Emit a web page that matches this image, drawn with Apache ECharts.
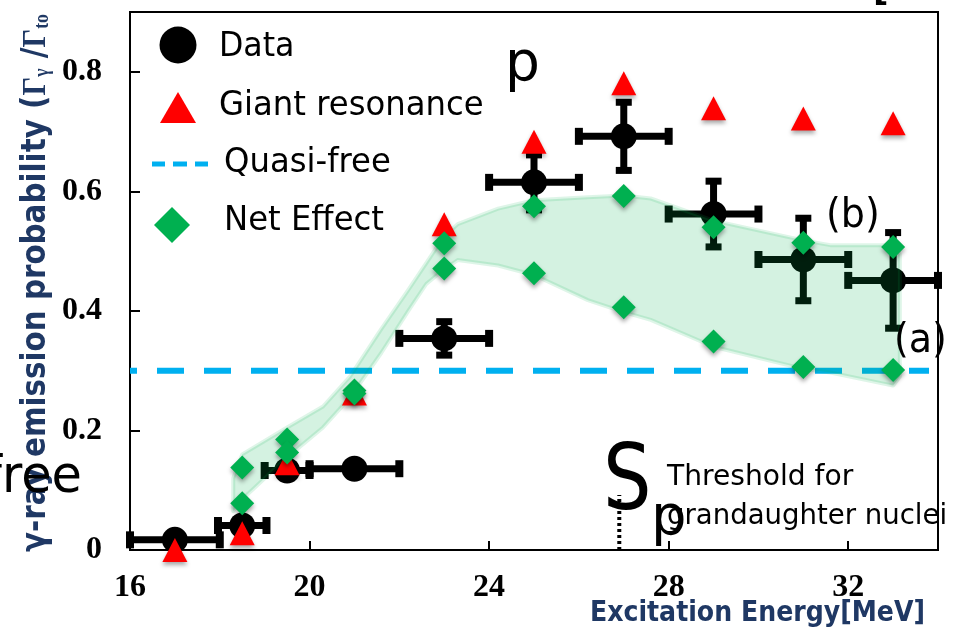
<!DOCTYPE html>
<html>
<head>
<meta charset="utf-8">
<script src="https://cdn.jsdelivr.net/npm/echarts@6/dist/echarts.min.js"></script>
<style>
  html, body { margin: 0; padding: 0; background: #fff; }
  #chart { width: 961px; height: 634px; }
</style>
</head>
<body>
<div id="chart"></div>
<script>
// Measured gamma-ray emission probability per excitation-energy bin
const dataX    = [17, 18.5, 19.5, 21, 23, 25, 27, 29, 31, 33];
const dataY    = [0.017, 0.041, 0.133, 0.136, 0.354, 0.615, 0.692, 0.562, 0.486, 0.451];
const dataXErr = [1, 0.54, 0.5, 1, 1, 1, 1, 1, 1, 1];
const dataYErr = [0, 0.01, 0, 0, 0.028, 0.046, 0.057, 0.055, 0.069, 0.08];

// Giant resonance model
const grX = [17, 18.5, 19.5, 21, 23, 25, 27, 29, 31, 33];
const grY = [0.0, 0.028, 0.145, 0.262, 0.545, 0.683, 0.781, 0.739, 0.722, 0.714];

// Net effect: upper and lower estimates
const neX     = [18.5, 19.5, 21, 23, 25, 27, 29, 31, 33];
const neUpper = [0.138, 0.185, 0.267, 0.513, 0.575, 0.592, 0.540, 0.514, 0.507];
const neLower = [0.078, 0.163, 0.262, 0.471, 0.463, 0.406, 0.349, 0.306, 0.301];

// Shaded net-effect band
const bandX     = [18.3, 18.5, 19.5, 20.3, 20.9, 21.6, 22.2, 22.6, 23.0, 23.3, 24.2, 25.0, 26.2, 27.0, 27.6, 29.0, 31.0, 31.6, 33.0, 33.15];
const bandUpper = [0.12, 0.16, 0.205, 0.24, 0.29, 0.37, 0.435, 0.48, 0.525, 0.545, 0.571, 0.585, 0.59, 0.593, 0.588, 0.551, 0.518, 0.51, 0.51, 0.495];
const bandLower = [0.065, 0.085, 0.155, 0.205, 0.255, 0.33, 0.40, 0.445, 0.47, 0.485, 0.476, 0.46, 0.418, 0.398, 0.385, 0.34, 0.303, 0.297, 0.275, 0.29];

// Quasi-free level
const qfX = [16, 33.8];
const qfY = [0.3, 0.3];

// Sp threshold marker
const spX = [26.9, 26.9];
const spY = [0, 0.092];

// Axis ranges
const xRange = [16, 34];
const yRange = [0, 0.9];

const chart = echarts.init(document.getElementById('chart'), null, { renderer: 'canvas' });

const sans = "'DejaVu Sans', sans-serif";
const serif = "'Liberation Serif', 'DejaVu Serif', serif";
const navy = '#1f3864';
const markShadow = { shadowBlur: 4, shadowOffsetY: 3, shadowColor: 'rgba(0,0,0,0.35)' };

function renderErrorBar(params, api) {
  const x = api.value(0), y = api.value(1), ex = api.value(2), ey = api.value(3);
  const bar = { stroke: '#000', lineWidth: 7 };
  const cap = { stroke: '#000', lineWidth: 8 };
  const kids = [];
  if (ex > 0) {
    const l = api.coord([x - ex, y]), r = api.coord([x + ex, y]);
    kids.push({ type: 'line', shape: { x1: l[0], y1: l[1], x2: r[0], y2: r[1] }, style: bar });
    kids.push({ type: 'line', shape: { x1: l[0], y1: l[1] - 8.5, x2: l[0], y2: l[1] + 8.5 }, style: cap });
    kids.push({ type: 'line', shape: { x1: r[0], y1: r[1] - 8.5, x2: r[0], y2: r[1] + 8.5 }, style: cap });
  }
  if (ey > 0) {
    const t = api.coord([x, y + ey]), b = api.coord([x, y - ey]);
    kids.push({ type: 'line', shape: { x1: t[0], y1: t[1], x2: b[0], y2: b[1] }, style: bar });
    kids.push({ type: 'line', shape: { x1: t[0] - 8, y1: t[1], x2: t[0] + 8, y2: t[1] }, style: { stroke: '#000', lineWidth: 7 } });
    kids.push({ type: 'line', shape: { x1: b[0] - 8, y1: b[1], x2: b[0] + 8, y2: b[1] }, style: { stroke: '#000', lineWidth: 7 } });
  }
  return { type: 'group', children: kids };
}

function renderBand(params, api) {
  if (params.dataIndex !== 0) return null;
  const pts = [];
  for (let i = 0; i < bandX.length; i++) pts.push(api.coord([bandX[i], bandUpper[i]]));
  for (let i = bandX.length - 1; i >= 0; i--) pts.push(api.coord([bandX[i], bandLower[i]]));
  return {
    type: 'polygon',
    shape: { points: pts },
    style: { fill: 'rgba(0,176,80,0.17)', stroke: 'rgba(0,176,80,0.13)', lineWidth: 4, lineJoin: 'round' }
  };
}

function text(t, x, y, size, opts) {
  opts = opts || {};
  return {
    type: 'text', x: x, y: y, z: 100,
    scaleX: opts.scaleX || 1,
    style: {
      text: t,
      font: (opts.weight || 'normal') + ' ' + size + 'px ' + (opts.family || sans),
      fill: opts.color || '#000',
      align: opts.align || 'left',
      verticalAlign: 'middle'
    }
  };
}

const graphics = [
  // legend
  { type: 'circle', shape: { cx: 178, cy: 45, r: 18.5 }, style: { fill: '#000' }, z: 100 },
  text('Data', 219, 47, 34, { scaleX: 0.93 }),
  { type: 'polygon', shape: { points: [[178, 92], [196, 123], [160, 123]] }, style: { fill: '#ff0000' }, z: 100 },
  text('Giant resonance', 219, 106, 34, { scaleX: 0.95 }),
  { type: 'line', shape: { x1: 152, y1: 164, x2: 165, y2: 164 }, style: { stroke: '#00b0f0', lineWidth: 5 }, z: 100 },
  { type: 'line', shape: { x1: 173, y1: 164, x2: 187, y2: 164 }, style: { stroke: '#00b0f0', lineWidth: 5 }, z: 100 },
  { type: 'line', shape: { x1: 195, y1: 164, x2: 208, y2: 164 }, style: { stroke: '#00b0f0', lineWidth: 5 }, z: 100 },
  text('Quasi-free', 224, 163, 34, { scaleX: 0.95 }),
  { type: 'polygon', shape: { points: [[172, 207], [190, 225], [172, 243], [154, 225]] }, style: { fill: '#00b050' }, z: 100 },
  text('Net Effect', 224, 221, 34, { scaleX: 0.95 }),

  // annotations
  text('free', 82, 478, 52, { align: 'right', scaleX: 0.95 }),
  text('p', 505, 66, 55),
  text('(b)', 826, 217, 40, { scaleX: 0.95 }),
  text('(a)', 894, 342, 40, { scaleX: 0.95 }),
  text('[', 873, -8, 34, { weight: 'bold' }),
  text('S', 603, 486, 90, { scaleX: 0.85 }),
  text('p', 651, 519, 56),
  text('Threshold for', 667, 477, 29, { scaleX: 0.97 }),
  text('grandaughter nuclei', 667, 516, 29, { scaleX: 0.95 }),

  // axis titles (the vertical one sits under the "free" annotation)
  {
    type: 'text', x: 34, y: 552, rotation: Math.PI / 2, scaleX: 0.89, z: 90,
    style: {
      text: '{m|γ-ray emission probability (}{g|Γ}{s|γ}{m| /}{g|Γ}{s|to}',
      fill: navy, align: 'left', verticalAlign: 'middle',
      rich: {
        m: { font: 'bold 33px ' + sans, fill: navy, verticalAlign: 'bottom', lineHeight: 38 },
        g: { font: 'bold 33px ' + serif, fill: navy, verticalAlign: 'bottom', lineHeight: 38 },
        s: { font: 'bold 20px ' + serif, fill: navy, verticalAlign: 'bottom', lineHeight: 31 }
      }
    }
  },
  text('Excitation Energy[MeV]', 925, 613, 29, { weight: 'bold', align: 'right', scaleX: 0.87, color: navy })
];

const option = {
  animation: false,
  backgroundColor: '#fff',
  grid: {
    left: 130, right: 23, top: 12, bottom: 84,
    show: true, borderColor: '#000', borderWidth: 2, backgroundColor: 'transparent',
    outerBoundsMode: 'none', containLabel: false
  },
  xAxis: {
    type: 'value', min: xRange[0], max: xRange[1], interval: 4,
    axisLine: { show: true, lineStyle: { color: '#000', width: 2 } },
    axisTick: { show: true, inside: true, length: 9, lineStyle: { color: '#000', width: 2 } },
    axisLabel: { showMaxLabel: false, color: '#000', fontFamily: serif, fontWeight: 'bold', fontSize: 32, margin: 22 },
    splitLine: { show: false }
  },
  yAxis: {
    type: 'value', min: yRange[0], max: yRange[1], interval: 0.2,
    axisLine: { show: true, lineStyle: { color: '#000', width: 2 } },
    axisTick: { show: true, inside: true, length: 10, lineStyle: { color: '#000', width: 2 } },
    axisLabel: { showMaxLabel: false, color: '#000', fontFamily: serif, fontWeight: 'bold', fontSize: 32, margin: 28 },
    splitLine: { show: false }
  },
  graphic: graphics,
  series: [
    {
      name: 'Quasi-free', type: 'line', z: 1, silent: true,
      data: qfX.map((x, i) => [x, qfY[i]]),
      symbol: 'none',
      lineStyle: { color: '#00b0f0', width: 6, type: [27, 20], dashOffset: 20, opacity: 1 }
    },
    {
      name: 'Sp', type: 'line', z: 2, silent: true,
      data: spX.map((x, i) => [x, spY[i]]),
      symbol: 'none',
      lineStyle: { color: '#000', width: 4, type: [3, 3], opacity: 1 }
    },
    {
      name: 'Data error', type: 'custom', z: 2, clip: false,
      renderItem: renderErrorBar,
      encode: { x: 0, y: 1 },
      data: dataX.map((x, i) => [x, dataY[i], dataXErr[i], dataYErr[i]])
    },
    {
      name: 'Data', type: 'scatter', z: 3, clip: false,
      symbol: 'circle', symbolSize: 26,
      itemStyle: { color: '#000', opacity: 1 },
      data: dataX.map((x, i) => [x, dataY[i]])
    },
    {
      name: 'Net Effect band', type: 'custom', z: 4, clip: false,
      renderItem: renderBand,
      encode: { x: 0, y: [1, 2] },
      data: bandX.map((x, i) => [x, bandUpper[i], bandLower[i]])
    },
    {
      name: 'Giant resonance', type: 'scatter', z: 5, clip: false,
      symbol: 'triangle', symbolSize: [25, 24],
      itemStyle: Object.assign({ color: '#ff0000', opacity: 1 }, markShadow),
      data: grX.map((x, i) => [x, grY[i]])
    },
    {
      name: 'Net Effect', type: 'scatter', z: 6, clip: false,
      symbol: 'diamond', symbolSize: 24,
      itemStyle: Object.assign({ color: '#00b050', opacity: 1 }, markShadow),
      data: neX.map((x, i) => [x, neUpper[i]]).concat(neX.map((x, i) => [x, neLower[i]]))
    }
  ]
};

chart.setOption(option);
</script>
</body>
</html>
